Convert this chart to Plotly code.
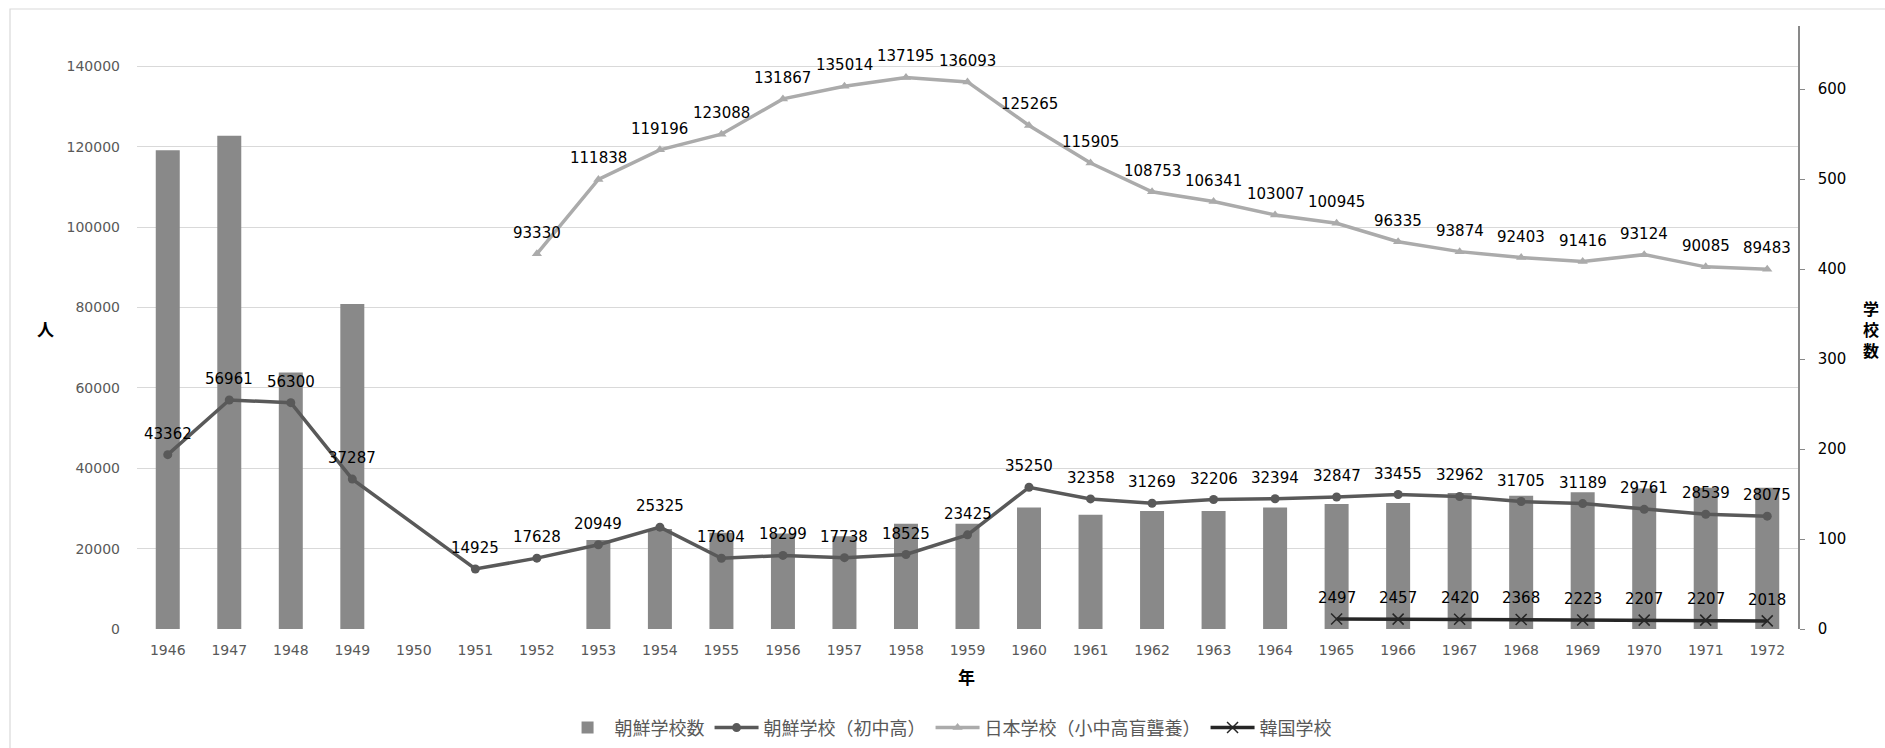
import plotly.graph_objects as go

years = [str(y) for y in range(1946, 1973)]

# 朝鮮学校数 (right axis)
school_counts = [532, 548, 285, 361, None, None, None, 99, 111, 107, 106, 103, 117, 117,
                 135, 127, 131, 131, 135, 139, 140, 151, 148, 152, 156, 157, 157]

# 朝鮮学校（初中高） students (left axis)
chosen_students = [43362, 56961, 56300, 37287, None, 14925, 17628, 20949, 25325, 17604,
                   18299, 17738, 18525, 23425, 35250, 32358, 31269, 32206, 32394, 32847,
                   33455, 32962, 31705, 31189, 29761, 28539, 28075]

# 日本学校（小中高盲聾養） students (left axis)
japan_students = [None, None, None, None, None, None, 93330, 111838, 119196, 123088, 131867,
                  135014, 137195, 136093, 125265, 115905, 108753, 106341, 103007, 100945,
                  96335, 93874, 92403, 91416, 93124, 90085, 89483]

# 韓国学校 students (left axis)
korea_students = [None] * 19 + [2497, 2457, 2420, 2368, 2223, 2207, 2207, 2018]

left_ticks = [0, 20000, 40000, 60000, 80000, 100000, 120000, 140000]
right_ticks = [0, 100, 200, 300, 400, 500, 600]

CJK_FONT = "Noto Sans CJK JP"
NUM_FONT = "DejaVu Sans"

fig = go.Figure()

fig.add_trace(go.Bar(
    x=years, y=school_counts, name="朝鮮学校数", yaxis="y",
    marker=dict(color="#898989", line=dict(width=0)), width=0.39,
))
fig.add_trace(go.Scatter(
    x=years, y=chosen_students, name="朝鮮学校（初中高）", yaxis="y2",
    mode="lines+markers", connectgaps=True,
    line=dict(color="#595959", width=3.5),
    marker=dict(symbol="circle", size=9, color="#595959"),
))
fig.add_trace(go.Scatter(
    x=years, y=japan_students, name="日本学校（小中高盲聾養）", yaxis="y2",
    mode="lines+markers",
    line=dict(color="#ababab", width=3.5),
    marker=dict(symbol="triangle-up", size=9, color="#ababab"),
))
fig.add_trace(go.Scatter(
    x=years, y=korea_students, name="韓国学校", yaxis="y2",
    mode="lines+markers",
    line=dict(color="#262626", width=3.5),
    marker=dict(symbol="x-thin", size=11, color="#262626",
                line=dict(width=1.5, color="#262626")),
))

annotations = []
for series in (chosen_students, japan_students, korea_students):
    for i, v in enumerate(series):
        if v is None:
            continue
        annotations.append(dict(
            x=i, y=v, xref="x", yref="y2", text=str(v), showarrow=False,
            yshift=21, font=dict(family=NUM_FONT, size=15, color="#000000"),
        ))

# axis titles
title_font = dict(family=CJK_FONT, size=17, color="#000000")
annotations.append(dict(x=-0.0551, y=0.499, xref="paper", yref="paper", text="<b>人</b>",
                        xanchor="center", yanchor="middle", showarrow=False, font=title_font))
annotations.append(dict(x=1.0437, y=0.497, xref="paper", yref="paper",
                        text="<b>学</b><br><b>校</b><br><b>数</b>",
                        xanchor="center", yanchor="middle", showarrow=False,
                        font=dict(family=CJK_FONT, size=16, color="#000000")))
annotations.append(dict(x=0.4995, y=-0.078, xref="paper", yref="paper", text="<b>年</b>",
                        xanchor="center", yanchor="middle", showarrow=False, font=title_font))

fig.update_layout(
    width=1885, height=748,
    margin=dict(l=137, r=87, t=26, b=119, pad=0, autoexpand=False),
    paper_bgcolor="white", plot_bgcolor="white",
    showlegend=True,
    legend=dict(orientation="h", x=0.255, y=-0.164, xanchor="left", yanchor="middle",
                font=dict(family=CJK_FONT, size=18, color="#595959"),
                traceorder="normal", itemwidth=44, bgcolor="rgba(0,0,0,0)"),
    xaxis=dict(type="category", range=[-0.5, len(years) - 0.5], autorange=False,
               showgrid=False, showline=False, zeroline=False, tickangle=0,
               ticks="", tickfont=dict(family=NUM_FONT, size=14, color="#595959"),
               ticklabelstandoff=11, automargin=False),
    yaxis=dict(side="right", range=[0, 670], tickvals=right_ticks, showgrid=False,
               zeroline=False, showline=True, linecolor="#898989", linewidth=1.5,
               ticks="outside", ticklen=5, tickcolor="#898989", tickformat="d",
               tickfont=dict(family=NUM_FONT, size=15, color="#000000"),
               ticklabelstandoff=10, automargin=False),
    yaxis2=dict(overlaying="y", side="left", range=[0, 150000], tickvals=left_ticks,
                tickformat="d",
                showgrid=True, gridcolor="#d9d9d9", gridwidth=1.2, zeroline=False,
                showline=False, ticks="",
                tickfont=dict(family=NUM_FONT, size=14, color="#595959"),
                ticklabelstandoff=16, automargin=False),
    annotations=annotations,
    shapes=[dict(type="rect", xref="paper", yref="paper", x0=-0.07646, x1=1.06,
                 y0=-0.22, y1=1.0282, line=dict(color="#d9d9d9", width=1.2),
                 fillcolor="rgba(0,0,0,0)", layer="below")],
)

fig.write_html("out.html")
